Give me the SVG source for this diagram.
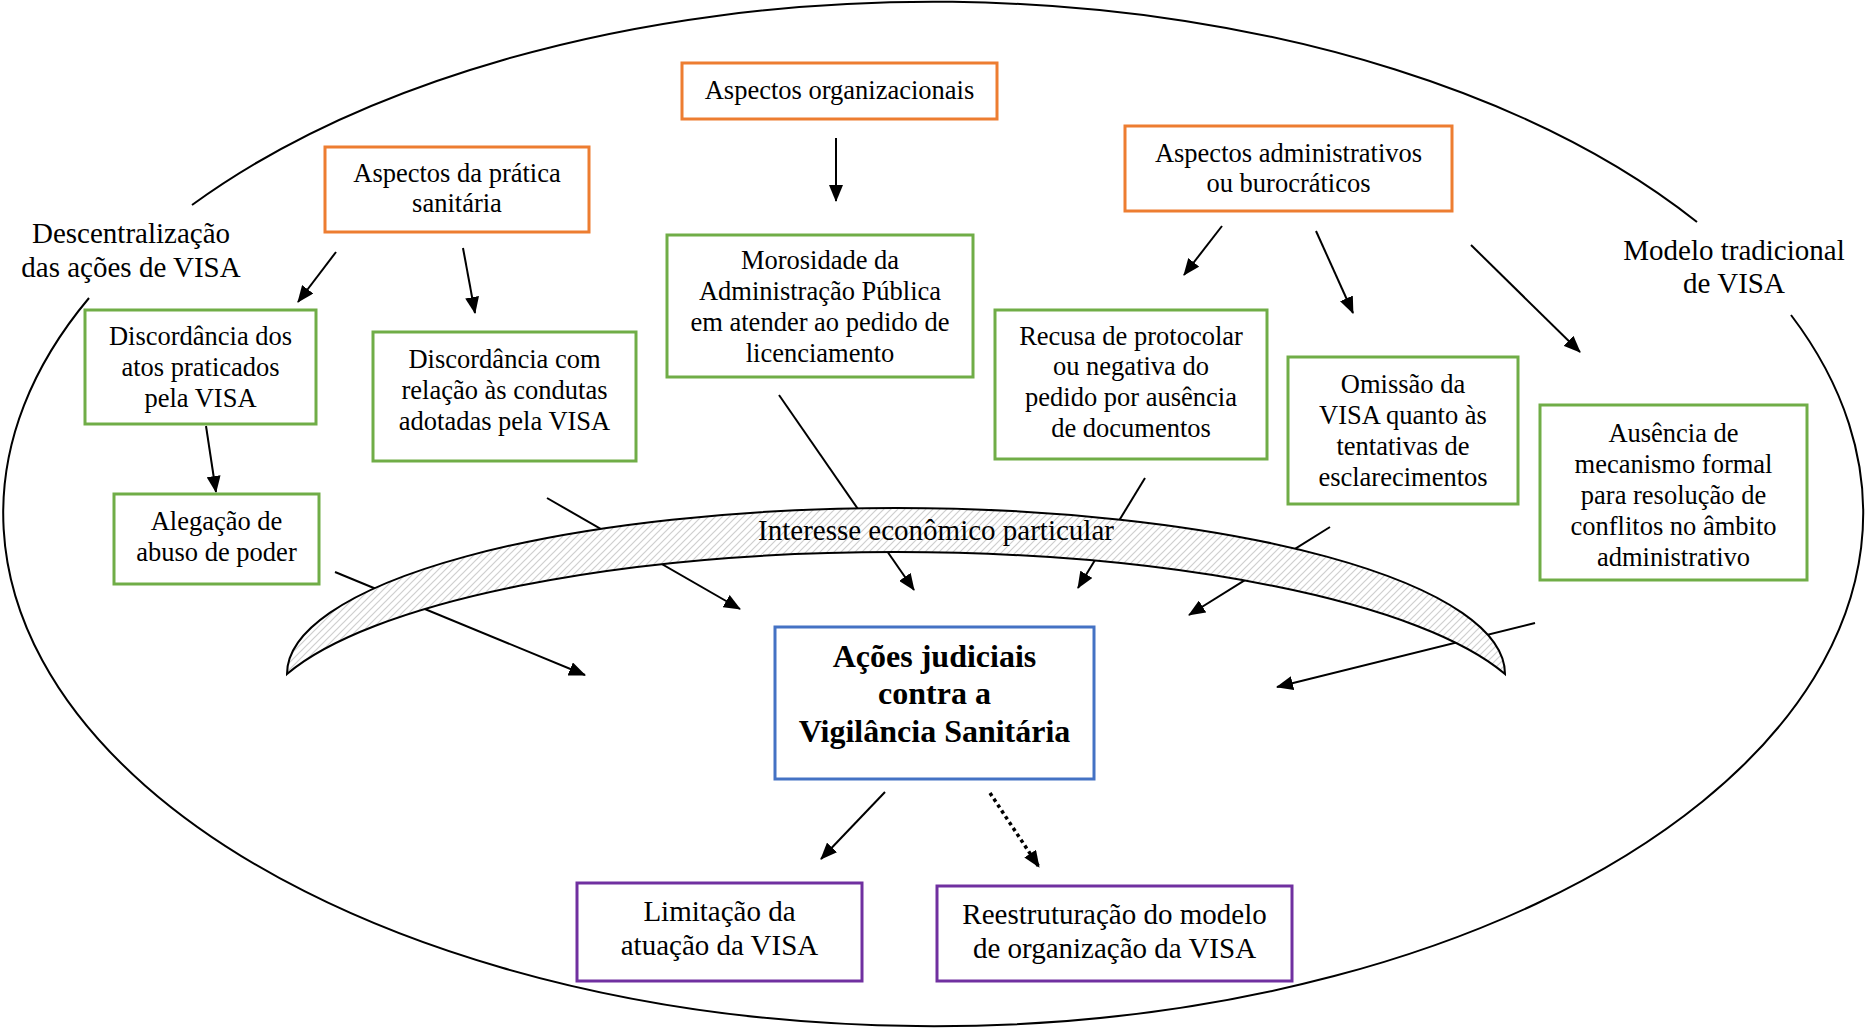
<svg xmlns="http://www.w3.org/2000/svg" width="1865" height="1031" viewBox="0 0 1865 1031">
<style>
text{font-family:"Liberation Serif","Times New Roman",serif;fill:#000;text-anchor:middle}
.t{font-size:26.5px}
.tl{font-size:29px}
.tb{font-size:32px;font-weight:bold}
.box{fill:#fff;stroke-width:3}
.or{stroke:#ED7D31}
.gr{stroke:#70AD47}
.bl{stroke:#4472C4}
.pu{stroke:#7030A0}
.c{stroke:#000;stroke-width:2;fill:none}
.arr{marker-end:url(#ah)}
.dot{stroke:#000;stroke-width:3.5;stroke-dasharray:3.5 3.5;fill:none}
</style>
<defs>
<marker id="ah" markerUnits="userSpaceOnUse" markerWidth="17" markerHeight="14" refX="16" refY="7" orient="auto">
<path d="M0,0 L17,7 L0,14 z" fill="#000"/>
</marker>
<pattern id="hatch" patternUnits="userSpaceOnUse" width="7" height="7">
<rect width="7" height="7" fill="#fff"/>
<path d="M-1,8 L8,-1 M-3,3 L3,-3 M4,10 L10,4" stroke="#cfcfcf" stroke-width="1.2"/>
</pattern>
</defs>

<g id="frame">
<path d="M192,205 A930,513 0 0 1 1697,222" fill="none" stroke="#000" stroke-width="2"/>
<path d="M1791,315 A930,513 0 1 1 89,298" fill="none" stroke="#000" stroke-width="2"/>
</g>

<g id="connectors">
<line class="c arr" x1="336" y1="252" x2="298" y2="302"/>
<line class="c arr" x1="463" y1="248" x2="475" y2="313"/>
<line class="c arr" x1="836" y1="138" x2="836" y2="201"/>
<line class="c arr" x1="1222" y1="226" x2="1184" y2="275"/>
<line class="c arr" x1="1316" y1="231" x2="1353" y2="313"/>
<line class="c arr" x1="1471" y1="245" x2="1580" y2="352"/>
<line class="c arr" x1="206" y1="426" x2="216" y2="492"/>
<line class="c arr" x1="335" y1="572" x2="585" y2="675"/>
<line class="c arr" x1="547" y1="498" x2="740" y2="609"/>
<line class="c arr" x1="779" y1="395" x2="914" y2="590"/>
<line class="c arr" x1="1145" y1="478" x2="1078" y2="588"/>
<line class="c arr" x1="1330" y1="527" x2="1189" y2="615"/>
<line class="c arr" x1="1535" y1="623" x2="1277" y2="687"/>
<line class="c arr" x1="885" y1="792" x2="821" y2="859"/>
<line class="dot arr" x1="990" y1="793" x2="1039" y2="867"/>
</g>

<g id="band">
<path d="M287,674 A609,166 0 0 1 1505,674 A640,176 0 0 0 287,674 Z" fill="url(#hatch)" stroke="#000" stroke-width="2"/>
<text class="tl" x="936" y="540">Interesse econômico particular</text>
</g>

<g id="label-descentralizacao">
<text class="tl" x="131" y="243">Descentralização</text>
<text class="tl" x="131" y="277">das ações de VISA</text>
</g>
<g id="label-modelo">
<text class="tl" x="1734" y="260">Modelo tradicional</text>
<text class="tl" x="1734" y="293">de VISA</text>
</g>

<g id="n-aspectos-org">
<rect class="box or" x="682" y="63" width="315" height="56"/>
<text class="t" x="839.5" y="99">Aspectos organizacionais</text>
</g>
<g id="n-aspectos-pratica">
<rect class="box or" x="325" y="147" width="264" height="85"/>
<text class="t" x="457" y="182">Aspectos da prática</text>
<text class="t" x="457" y="212">sanitária</text>
</g>
<g id="n-aspectos-adm">
<rect class="box or" x="1125" y="126" width="327" height="85"/>
<text class="t" x="1288.5" y="162">Aspectos administrativos</text>
<text class="t" x="1288.5" y="192">ou burocráticos</text>
</g>
<g id="n-discordancia-dos">
<rect class="box gr" x="85" y="310" width="231" height="114"/>
<text class="t" x="200.5" y="345">Discordância dos</text>
<text class="t" x="200.5" y="376">atos praticados</text>
<text class="t" x="200.5" y="407">pela VISA</text>
</g>
<g id="n-discordancia-com">
<rect class="box gr" x="373" y="332" width="263" height="129"/>
<text class="t" x="504.5" y="368">Discordância com</text>
<text class="t" x="504.5" y="399">relação às condutas</text>
<text class="t" x="504.5" y="430">adotadas pela VISA</text>
</g>
<g id="n-alegacao">
<rect class="box gr" x="114" y="494" width="205" height="90"/>
<text class="t" x="216.5" y="530">Alegação de</text>
<text class="t" x="216.5" y="561">abuso de poder</text>
</g>
<g id="n-morosidade">
<rect class="box gr" x="667" y="235" width="306" height="142"/>
<text class="t" x="820" y="269">Morosidade da</text>
<text class="t" x="820" y="300">Administração Pública</text>
<text class="t" x="820" y="331">em atender ao pedido de</text>
<text class="t" x="820" y="362">licenciamento</text>
</g>
<g id="n-recusa">
<rect class="box gr" x="995" y="310" width="272" height="149"/>
<text class="t" x="1131" y="345">Recusa de protocolar</text>
<text class="t" x="1131" y="375">ou negativa do</text>
<text class="t" x="1131" y="406">pedido por ausência</text>
<text class="t" x="1131" y="437">de documentos</text>
</g>
<g id="n-omissao">
<rect class="box gr" x="1288" y="357" width="230" height="147"/>
<text class="t" x="1403" y="393">Omissão da</text>
<text class="t" x="1403" y="424">VISA quanto às</text>
<text class="t" x="1403" y="455">tentativas de</text>
<text class="t" x="1403" y="486">esclarecimentos</text>
</g>
<g id="n-ausencia">
<rect class="box gr" x="1540" y="405" width="267" height="175"/>
<text class="t" x="1673.5" y="442">Ausência de</text>
<text class="t" x="1673.5" y="473">mecanismo formal</text>
<text class="t" x="1673.5" y="504">para resolução de</text>
<text class="t" x="1673.5" y="535">conflitos no âmbito</text>
<text class="t" x="1673.5" y="566">administrativo</text>
</g>
<g id="n-acoes">
<rect class="box bl" x="775" y="627" width="319" height="152"/>
<text class="tb" x="934.5" y="667">Ações judiciais</text>
<text class="tb" x="934.5" y="704">contra a</text>
<text class="tb" x="934.5" y="742">Vigilância Sanitária</text>
</g>
<g id="n-limitacao">
<rect class="box pu" x="577" y="883" width="285" height="98"/>
<text class="tl" x="719.5" y="921">Limitação da</text>
<text class="tl" x="719.5" y="955">atuação da VISA</text>
</g>
<g id="n-reestruturacao">
<rect class="box pu" x="937" y="886" width="355" height="95"/>
<text class="tl" x="1114.5" y="924">Reestruturação do modelo</text>
<text class="tl" x="1114.5" y="958">de organização da VISA</text>
</g>
</svg>
